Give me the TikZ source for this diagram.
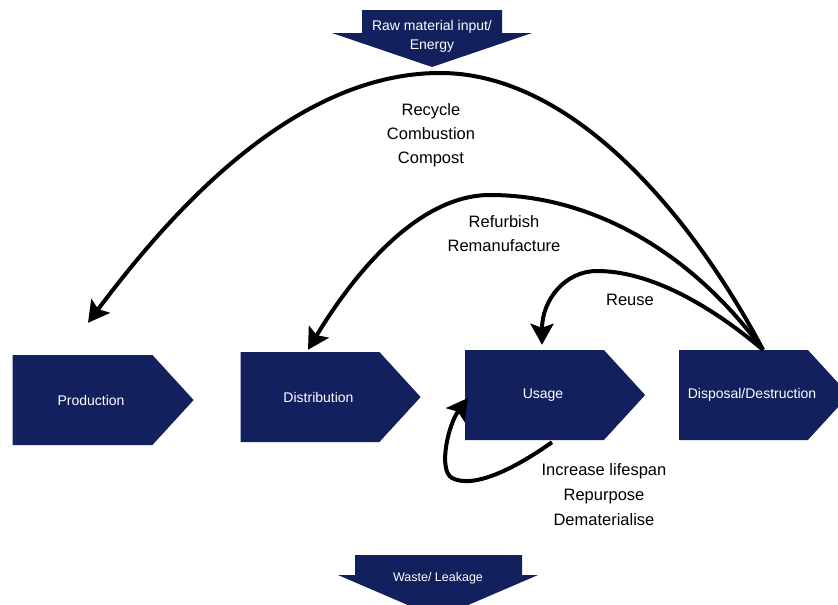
\documentclass[tikz,border=0pt]{standalone}
\usepackage{fontspec}
\setmainfont{Liberation Sans}
\usepackage{tikz}
\usetikzlibrary{shapes.symbols,arrows.meta}
\definecolor{navy}{RGB}{18,32,94}

\begin{document}
\begin{tikzpicture}[x=1pt,y=-1pt]
    \tikzstyle{stage}=[
      signal,
      signal to=east,
      signal from=nowhere,
      signal pointer angle=95,
      fill=navy,
      text=white,
      minimum height=90pt,
      font=\fontsize{14}{16}\selectfont,
      execute at begin node=\hspace*{17pt},
    ]
    \tikzstyle{flow}=[line width=4pt,-{Stealth[length=21pt,width=23pt,inset=4pt]},draw=black]
    \tikzstyle{lbl}=[align=center,font=\fontsize{16.5}{24}\selectfont]
    \tikzstyle{biglbl}=[align=center,text=white,font=\fontsize{14}{19}\selectfont]

    \useasboundingbox (0,0) rectangle (838,605);

    \fill[navy] (362,10) -- (502,10) -- (502,33) -- (532,33) -- (432,67) -- (332,33) -- (362,33) -- cycle;
    \node[biglbl] (input) at (432,36) {Raw material input/\\Energy};
    \fill[navy] (355,555) -- (522,555) -- (522,575) -- (538,575) -- (438,618) -- (338,575) -- (355,575) -- cycle;
    \node[biglbl,font=\fontsize{12.5}{15}\selectfont] (waste) at (438,578) {Waste/ Leakage};

    \node[stage,minimum width=181pt] (prod) at (82.5,400) {Production};
    \node[stage,minimum width=180pt] (dist) at (310,397) {Distribution};
    \node[stage,minimum width=180pt] (use) at (534.5,395) {Usage};
    \node[stage,minimum width=170pt] (disp) at (743.5,395) {\makebox[100pt]{Disposal/Destruction}};

    \coordinate (src) at ([xshift=19.5pt]disp.north);

    \draw[flow] (src) .. controls (700,230) and (580,73) .. (440,73)
      .. controls (290,73) and (165,220) .. ([xshift=5.5pt,yshift=32pt]prod.north);
    \draw[flow] (src) .. controls (690,250) and (590,195) .. (490,195)
      .. controls (415,195) and (350,280) .. ([xshift=-2pt,yshift=2pt]dist.north);
    \draw[flow] (src) .. controls (710,305) and (650,271) .. (597,271)
      .. controls (565,271) and (542,300) .. ([xshift=7.5pt,yshift=5pt]use.north);
    \draw[flow] ([xshift=17.5pt,yshift=-2pt]use.south) .. controls (520,465) and (475,490) .. (452,478)
      .. controls (438,470) and (448,425) .. ([xshift=3pt,yshift=-3pt]use.west);

    \node[lbl] (outer) at (431,135) {Recycle\\Combustion\\Compost};
    \node[lbl] (middle) at (504,234) {Refurbish\\Remanufacture};
    \node[lbl] (inner) at (630,300) {Reuse};
    \node[lbl,font=\fontsize{16.5}{25}\selectfont] (loop) at (604,495) {Increase lifespan\\Repurpose\\Dematerialise};
  \end{tikzpicture}
\end{document}
